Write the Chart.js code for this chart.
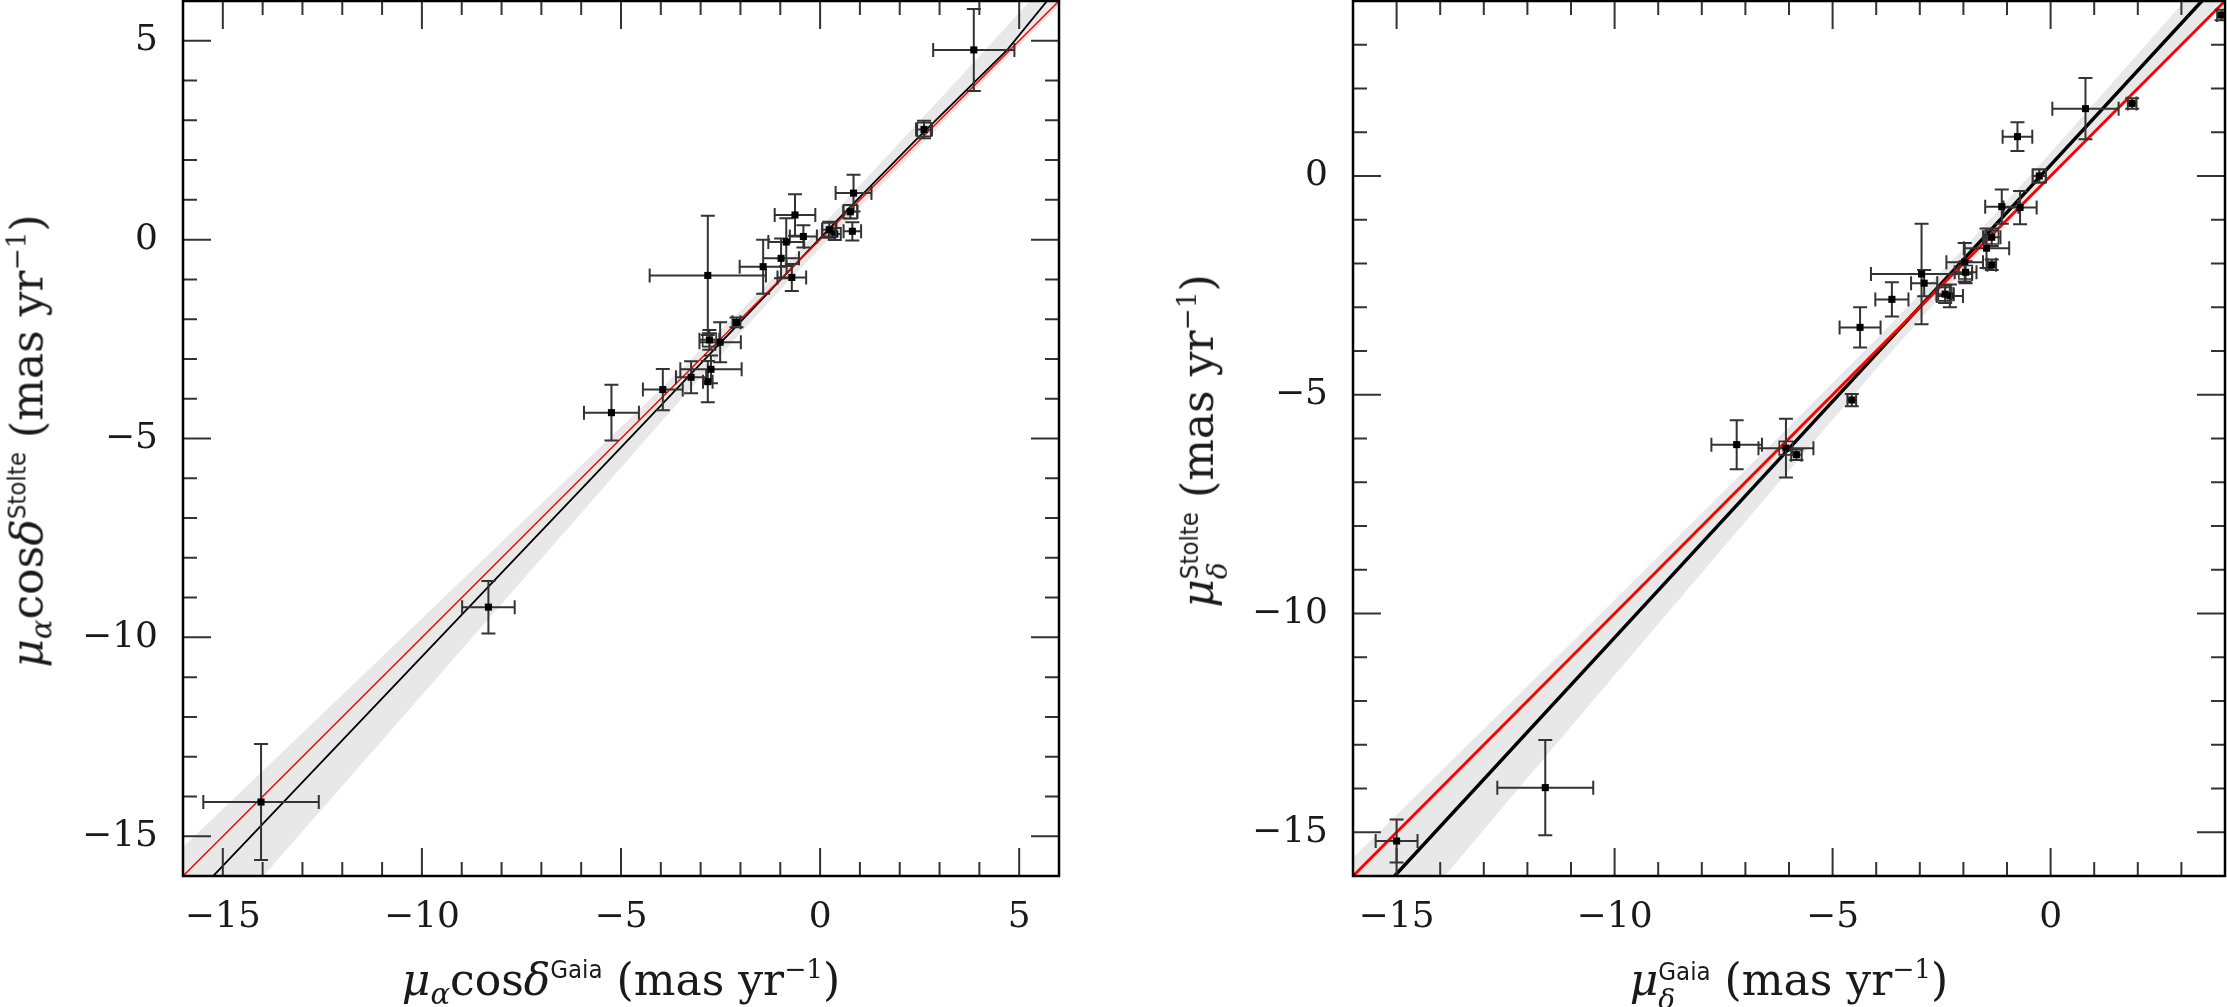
<!DOCTYPE html>
<html>
<head>
<meta charset="utf-8">
<title>Gaia vs Stolte proper motions</title>
<script src="https://cdn.jsdelivr.net/npm/chart.js@4.4.1/dist/chart.umd.min.js"></script>
<style>
  html, body { margin: 0; padding: 0; background: #fff; }
  body { position: relative; width: 2227px; height: 1007px; overflow: hidden; }
  canvas { position: absolute; top: 0; }
  #panelRa { left: 0; width: 1113px; height: 1007px; }
  #panelDec { left: 1113px; width: 1114px; height: 1007px; }
  .ttl { position: absolute; white-space: nowrap; font-family: "DejaVu Serif", serif; font-size: 44px; line-height: 1; color: #1a1a1a; }
  .ttl i { font-style: italic; }
  .ttl .sb { font-size: 0.66em; vertical-align: -9px; }
  .ttl .sp { font-family: "DejaVu Sans Condensed", "Liberation Sans Narrow", sans-serif; font-size: 0.58em; vertical-align: 17px; }
  .ttl .ex { font-size: 0.6em; vertical-align: 17px; }
  .ttl .stk { display: inline-flex; flex-direction: column; font-size: 0.58em; line-height: 1.05; vertical-align: 15px; }
  .ttl .stk .g { font-family: "DejaVu Sans Condensed", "Liberation Sans Narrow", sans-serif; }
  .ttl .stk .d { font-style: italic; font-size: 1.1em; }
  .xt { top: 956px; transform: translateX(-50%); }
  .yt { transform: translate(-50%, -50%) rotate(-90deg); }
</style>
</head>
<body>
<canvas id="panelRa" width="1113" height="1007"></canvas>
<canvas id="panelDec" width="1114" height="1007"></canvas>

<div class="ttl xt" style="left:621px"><i>μ</i><span class="sb"><i>α</i></span>cos<i>δ</i><span class="sp">Gaia</span> (mas yr<span class="ex">−1</span>)</div>
<div class="ttl yt" style="left:30px; top:441px"><i>μ</i><span class="sb"><i>α</i></span>cos<i>δ</i><span class="sp">Stolte</span> (mas yr<span class="ex">−1</span>)</div>
<div class="ttl xt" style="left:1789px"><i>μ</i><span class="stk"><span class="g">Gaia</span><span class="d">δ</span></span> (mas yr<span class="ex">−1</span>)</div>
<div class="ttl yt" style="left:1203px; top:441px"><i>μ</i><span class="stk"><span class="g">Stolte</span><span class="d">δ</span></span> (mas yr<span class="ex">−1</span>)</div>

<script>
// ---- left panel: mu_alpha cos(delta) ----
const raRange = [-16, 6];
const raMajorTicks = [-15, -10, -5, 0, 5];

const raGaia      = [3.86, 2.61, 0.84, 0.76, -0.63, -0.42, 0.23, 0.37, 0.81, -0.85, -0.98, -1.43, -0.71, -2.82, -2.10, -2.51, -2.78, -2.74, -2.82, -3.24, -3.95, -5.24, -8.33, -14.04];
const raGaiaErr   = [1.02, 0.20, 0.45, 0.18, 0.51, 0.34, 0.18, 0.15, 0.22, 0.45, 0.45, 0.59, 0.36, 1.46, 0.10, 0.52, 0.25, 0.77, 0.12, 0.38, 0.50, 0.69, 0.66, 1.45];
const raStolte    = [4.77, 2.77, 1.17, 0.70, 0.62, 0.08, 0.25, 0.14, 0.21, -0.06, -0.47, -0.68, -0.95, -0.90, -2.08, -2.58, -2.52, -3.26, -3.57, -3.46, -3.77, -4.35, -9.24, -14.14];
const raStolteErr = [1.03, 0.22, 0.46, 0.17, 0.52, 0.28, 0.20, 0.15, 0.23, 0.60, 0.50, 0.68, 0.34, 1.50, 0.12, 0.50, 0.25, 0.35, 0.52, 0.40, 0.52, 0.70, 0.66, 1.46];
const raBoxed     = [0, 1, 0, 1, 0, 0, 1, 0, 0, 0, 0, 0, 0, 0, 0, 0, 1, 0, 0, 0, 0, 0, 0, 0];

const raFitX  = [-17, -8, -2, 0.5, 2.4, 4.7, 5.7, 7];
const raFitY  = [-17.85, -8.38, -2.07, 0.56, 2.5, 4.77, 6.0, 7.4];
const raBandX  = [-17, -14, -11, -8, -6, -4, -2, -1, 0, 2, 4, 7];
const raBandHi = [-16.23, -13.36, -10.49, -7.60, -5.68, -3.75, -1.79, -0.78, 0.29, 2.44, 4.61, 7.90];
const raBandLo = [-19.47, -16.02, -12.59, -9.16, -6.88, -4.59, -2.35, -1.26, -0.21, 1.84, 3.87, 6.90];

// ---- right panel: mu_delta ----
const decRange = [-16, 4];
const decMajorTicks = [-15, -10, -5, 0];

const decGaia      = [3.92, 0.80, 1.87, -0.76, -0.26, -1.12, -0.70, -1.35, -1.47, -1.35, -1.97, -1.95, -2.96, -2.90, -2.42, -2.31, -3.64, -4.37, -4.56, -7.20, -6.07, -5.83, -11.59, -15.00];
const decGaiaErr   = [0.10, 0.76, 0.10, 0.34, 0.15, 0.38, 0.38, 0.20, 0.52, 0.10, 0.42, 0.25, 1.16, 0.30, 0.20, 0.30, 0.38, 0.47, 0.10, 0.58, 0.63, 0.12, 1.10, 0.48];
const decStolte    = [3.68, 1.54, 1.66, 0.90, 0.00, -0.70, -0.72, -1.40, -1.65, -2.03, -1.97, -2.20, -2.24, -2.45, -2.70, -2.74, -2.82, -3.46, -5.12, -6.14, -6.22, -6.37, -13.98, -15.20];
const decStolteErr = [0.12, 0.70, 0.12, 0.33, 0.15, 0.39, 0.38, 0.20, 0.45, 0.12, 0.44, 0.25, 1.15, 0.30, 0.20, 0.26, 0.39, 0.46, 0.14, 0.56, 0.67, 0.12, 1.09, 0.49];
const decBoxed     = [0, 0, 0, 0, 1, 0, 0, 1, 0, 0, 0, 1, 0, 0, 1, 0, 0, 0, 0, 0, 1, 0, 0, 0];

const decFitX  = [-17, -10, -4, 0, 3.47, 5];
const decFitY  = [-18.11, -10.55, -4.07, 0.25, 4.0, 5.65];
const decBandX  = [-17, -14, -11, -8, -6, -4, -2, 0, 2, 4, 5];
const decBandHi = [-16.56, -13.62, -10.68, -7.71, -5.73, -3.73, -1.66, 0.53, 2.79, 5.05, 6.18];
const decBandLo = [-19.66, -16.12, -12.58, -9.07, -6.73, -4.41, -2.16, -0.03, 2.03, 4.09, 5.12];

const TICK_FONT = { family: '"DejaVu Serif", serif', size: 36 };
const INK = '#333';

// error bars with caps, drawn just before the markers
const errorBars = {
  id: 'errorBars',
  beforeDatasetDraw(chart, args) {
    const ds = chart.data.datasets[args.index];
    if (!ds.errX) return;
    const { ctx, chartArea: a } = chart;
    const xs = chart.scales.x, ys = chart.scales.y;
    const cap = 7;
    ctx.save();
    ctx.beginPath();
    ctx.rect(a.left, a.top, a.width, a.height);
    ctx.clip();
    ctx.strokeStyle = INK;
    ctx.lineWidth = 2;
    ctx.beginPath();
    ds.data.forEach((p, i) => {
      const px = xs.getPixelForValue(p.x), py = ys.getPixelForValue(p.y);
      const x0 = xs.getPixelForValue(p.x - ds.errX[i]), x1 = xs.getPixelForValue(p.x + ds.errX[i]);
      const y0 = ys.getPixelForValue(p.y - ds.errY[i]), y1 = ys.getPixelForValue(p.y + ds.errY[i]);
      ctx.moveTo(x0, py); ctx.lineTo(x1, py);
      ctx.moveTo(px, y0); ctx.lineTo(px, y1);
      ctx.moveTo(x0, py - cap); ctx.lineTo(x0, py + cap);
      ctx.moveTo(x1, py - cap); ctx.lineTo(x1, py + cap);
      ctx.moveTo(px - cap, y0); ctx.lineTo(px + cap, y0);
      ctx.moveTo(px - cap, y1); ctx.lineTo(px + cap, y1);
    });
    ctx.stroke();
    ctx.restore();
  }
};

// box frame with inward ticks on all four sides
const frame = {
  id: 'frame',
  afterDatasetsDraw(chart) {
    const { ctx, chartArea: a } = chart;
    const xs = chart.scales.x, ys = chart.scales.y;
    ctx.save();
    ctx.strokeStyle = INK;
    ctx.lineWidth = 2;
    ctx.beginPath();
    for (let v = Math.ceil(xs.min); v <= xs.max; v++) {
      const len = v % 5 === 0 ? 28 : 14;
      const px = xs.getPixelForValue(v);
      ctx.moveTo(px, a.bottom); ctx.lineTo(px, a.bottom - len);
      ctx.moveTo(px, a.top); ctx.lineTo(px, a.top + len);
    }
    for (let v = Math.ceil(ys.min); v <= ys.max; v++) {
      const len = v % 5 === 0 ? 28 : 14;
      const py = ys.getPixelForValue(v);
      ctx.moveTo(a.left, py); ctx.lineTo(a.left + len, py);
      ctx.moveTo(a.right, py); ctx.lineTo(a.right - len, py);
    }
    ctx.stroke();
    ctx.strokeStyle = '#000';
    ctx.lineWidth = 2.5;
    ctx.strokeRect(a.left, a.top, a.width, a.height);
    ctx.restore();
  }
};

function tickLabel(major) {
  return v => major.includes(v) ? String(v).replace('-', '\u2212') : null;
}

// keep the plot box exactly where the layout padding puts it
function noOverflow(s) {
  s.paddingLeft = 0; s.paddingRight = 0; s.paddingTop = 0; s.paddingBottom = 0;
}

function buildPanel(id, p) {
  const pts = p.gaia.map((v, i) => ({ x: v, y: p.stolte[i] }));
  const boxed = pts.filter((_, i) => p.boxed[i]);
  const hi = p.bandX.map((v, i) => ({ x: v, y: p.bandHi[i] }));
  const lo = p.bandX.map((v, i) => ({ x: v, y: p.bandLo[i] }));
  const fit = p.fitX.map((v, i) => ({ x: v, y: p.fitY[i] }));
  const oneToOne = p.range.map(v => ({ x: v, y: v }));

  return new Chart(document.getElementById(id), {
    type: 'line',
    data: {
      datasets: [
        { data: hi, order: 6, borderColor: 'rgba(0,0,0,0)', borderWidth: 0, pointRadius: 0, fill: '+1', backgroundColor: '#e8e8e8' },
        { data: lo, order: 5, borderColor: 'rgba(0,0,0,0)', borderWidth: 0, pointRadius: 0, fill: false },
        { data: fit, order: 4, borderColor: '#000', borderWidth: p.fitWidth, pointRadius: 0, fill: false },
        { data: oneToOne, order: 3, borderColor: '#f00', borderWidth: p.redWidth, pointRadius: 0, fill: false },
        { data: pts, order: 2, showLine: false, pointStyle: 'rect', pointRadius: 5, pointBackgroundColor: '#000', pointBorderWidth: 0,
          errX: p.gaiaErr, errY: p.stolteErr },
        { data: boxed, order: 1, showLine: false, pointStyle: 'rect', pointRadius: 9.5, pointBackgroundColor: 'rgba(0,0,0,0)',
          pointBorderColor: INK, pointBorderWidth: 1.6 }
      ]
    },
    options: {
      responsive: false,
      animation: false,
      events: [],
      layout: { autoPadding: false, padding: { left: 0, right: p.padRight, top: 1, bottom: 0 } },
      plugins: { legend: { display: false }, tooltip: { enabled: false } },
      scales: {
        x: {
          type: 'linear', min: p.range[0], max: p.range[1],
          grid: { display: false, drawTicks: false }, border: { display: false },
          ticks: { stepSize: 1, autoSkip: false, maxRotation: 0, padding: 20, color: '#1a1a1a', font: TICK_FONT, callback: tickLabel(p.major) },
          afterFit: s => { s.height = 131; noOverflow(s); }
        },
        y: {
          type: 'linear', min: p.range[0], max: p.range[1],
          grid: { display: false, drawTicks: false }, border: { display: false },
          ticks: { stepSize: 1, autoSkip: false, padding: 25, color: '#1a1a1a', font: TICK_FONT, callback: tickLabel(p.major) },
          afterFit: s => { s.width = p.axisWidth; noOverflow(s); }
        }
      }
    },
    plugins: [errorBars, frame]
  });
}

buildPanel('panelRa', {
  range: raRange, major: raMajorTicks,
  gaia: raGaia, gaiaErr: raGaiaErr, stolte: raStolte, stolteErr: raStolteErr, boxed: raBoxed,
  fitX: raFitX, fitY: raFitY, bandX: raBandX, bandHi: raBandHi, bandLo: raBandLo,
  fitWidth: 1.8, redWidth: 1.5, axisWidth: 183, padRight: 54
});

buildPanel('panelDec', {
  range: decRange, major: decMajorTicks,
  gaia: decGaia, gaiaErr: decGaiaErr, stolte: decStolte, stolteErr: decStolteErr, boxed: decBoxed,
  fitX: decFitX, fitY: decFitY, bandX: decBandX, bandHi: decBandHi, bandLo: decBandLo,
  fitWidth: 3.5, redWidth: 3, axisWidth: 240, padRight: 2
});
</script>
</body>
</html>
